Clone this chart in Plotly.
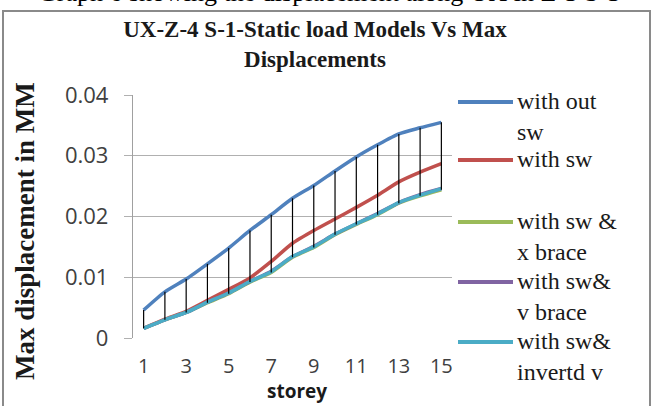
import plotly.graph_objects as go

# Storey numbers and maximum displacement (mm) for each model
storeys = list(range(1, 16))
without_sw = [0.0046, 0.0076, 0.0097, 0.0122, 0.0148, 0.0177, 0.0203, 0.0230,
              0.0251, 0.0275, 0.0298, 0.0318, 0.0336, 0.0346, 0.0355]
with_sw = [0.0016, 0.0031, 0.0044, 0.0062, 0.0080, 0.0099, 0.0126, 0.0156,
           0.0177, 0.0196, 0.0215, 0.0235, 0.0257, 0.0273, 0.0287]
sw_x_brace = [0.0016, 0.0030, 0.0042, 0.0058, 0.0073, 0.0092, 0.0108, 0.0133,
              0.0149, 0.0170, 0.0187, 0.0203, 0.0222, 0.0234, 0.0244]
sw_v_brace = [0.0016, 0.0030, 0.0042, 0.0059, 0.0074, 0.0093, 0.0110, 0.0134,
              0.0151, 0.0171, 0.0188, 0.0205, 0.0223, 0.0236, 0.0246]
sw_inv_v = [0.0016, 0.0030, 0.0042, 0.0059, 0.0074, 0.0093, 0.0109, 0.0134,
            0.0150, 0.0171, 0.0188, 0.0204, 0.0223, 0.0235, 0.0246]

series_names = ["with out<br>sw", "with sw", "with sw &<br>x brace",
                "with sw&<br>v brace", "with sw&<br>invertd v"]
series_values = [without_sw, with_sw, sw_x_brace, sw_v_brace, sw_inv_v]
series_colors = ["#4F81BD", "#C0504D", "#9BBB59", "#8064A2", "#4BACC6"]

y_ticks = [0, 0.01, 0.02, 0.03, 0.04]
y_ticktext = ["0", "0.01", "0.02", "0.03", "0.04"]
x_ticks = [1, 3, 5, 7, 9, 11, 13, 15]

W, H = 652, 406
L, R, T, B = 133, 452, 95, 338  # plot area in pixels


def px(x):
    return (x - L) / (R - L)


def py(y):
    return (B - y) / (B - T)


fig = go.Figure()

for name, vals, col in zip(series_names, series_values, series_colors):
    fig.add_trace(go.Scatter(x=storeys, y=vals, mode="lines", name=name,
                             line=dict(color=col, width=3.5, shape="spline",
                                       smoothing=0.6),
                             showlegend=False))

# High-low lines joining the highest and lowest model at each storey
hl_x, hl_y = [], []
for i, s in enumerate(storeys):
    col_vals = [v[i] for v in series_values]
    hl_x += [s, s, None]
    hl_y += [max(col_vals), min(col_vals), None]
fig.add_trace(go.Scatter(x=hl_x, y=hl_y, mode="lines",
                         line=dict(color="black", width=1.2),
                         showlegend=False, hoverinfo="skip"))

shapes = []
annotations = []

# Chart border
shapes.append(dict(type="rect", xref="paper", yref="paper",
                   x0=px(3), x1=px(650), y0=py(412), y1=py(11),
                   line=dict(color="#8a8a8a", width=2), layer="below"))

# Legend on the right
legend_y = [102, 160, 222, 282, 342]
for name, col, ly in zip(series_names, series_colors, legend_y):
    shapes.append(dict(type="line", xref="paper", yref="paper",
                       x0=px(458), x1=px(513), y0=py(ly), y1=py(ly),
                       line=dict(color=col, width=4)))
    annotations.append(dict(xref="paper", yref="paper", x=px(516), y=py(ly - 15),
                            xanchor="left", yanchor="top", align="left",
                            text=name, showarrow=False, borderpad=0,
                            font=dict(family="Liberation Serif", size=24,
                                      color="#1a1a1a")))

# Caption above the chart frame
annotations.append(dict(xref="paper", yref="paper", x=px(329), y=py(-8),
                        xanchor="center", yanchor="middle", showarrow=False,
                        text="Graph 6 showing the displacement along UX in Z-3 S-3",
                        font=dict(family="Liberation Serif", size=26, color="black")))

# Y-axis title
annotations.append(dict(xref="paper", yref="paper", x=px(25), y=py(231),
                        xanchor="center", yanchor="middle", showarrow=False,
                        textangle=-90, text="<b>Max displacement in MM</b>",
                        font=dict(family="Liberation Serif", size=27, color="#1a1a1a")))

# X-axis title
annotations.append(dict(xref="paper", yref="paper", x=px(297), y=py(391),
                        xanchor="center", yanchor="middle", showarrow=False,
                        text="<b>storey</b>", borderpad=0,
                        font=dict(family="Open Sans", size=19, color="#1a1a1a")))

fig.update_layout(
    width=W, height=H,
    margin=dict(l=L, r=W - R, t=T, b=H - B),
    paper_bgcolor="white", plot_bgcolor="white",
    title=dict(text="<b>UX-Z-4 S-1-Static load Models Vs Max<br>Displacements</b>",
               x=315 / W, xref="container", xanchor="center",
               y=1 - 37 / H, yref="container", yanchor="middle",
               font=dict(family="Liberation Serif", size=23, color="#1a1a1a")),
    shapes=shapes, annotations=annotations,
    xaxis=dict(range=[0.5, 15.5], tickmode="array", tickvals=x_ticks,
               showgrid=False, zeroline=False, showline=False, ticks="",
               ticklabelstandoff=14,
               tickfont=dict(family="Open Sans", size=20, color="#404040")),
    yaxis=dict(range=[0, 0.04], tickmode="array", tickvals=y_ticks,
               ticktext=y_ticktext, showgrid=True, gridcolor="#b0b0b0",
               gridwidth=1.3, zeroline=False, showline=True, linecolor="#a0a0a0",
               linewidth=1.3, ticks="outside", ticklen=8, tickcolor="#b0b0b0",
               tickwidth=1.3, ticklabelstandoff=11,
               tickfont=dict(family="Open Sans", size=22, color="#404040")),
)

fig.write_html("out.html")
